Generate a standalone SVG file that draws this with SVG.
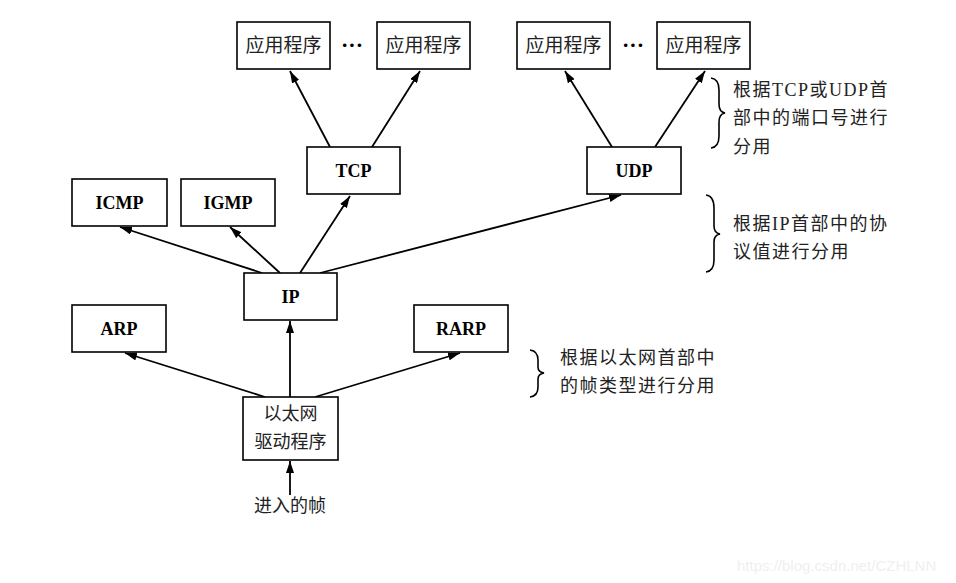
<svg xmlns="http://www.w3.org/2000/svg" width="956" height="583" viewBox="0 0 956 583">
  <defs>
    <marker id="arrow" viewBox="0 0 12 8" refX="12" refY="4" markerWidth="12" markerHeight="8" markerUnits="userSpaceOnUse" orient="auto">
      <path d="M0,0 L12,4 L0,8 Z" fill="#000"/>
    </marker>
    <style>
      .box { fill: #fff; stroke: #000; stroke-width: 1.6; }
      .lbl { font-family: "Liberation Serif", serif; font-weight: bold; font-size: 18px; text-anchor: middle; fill: #000; }
      .app { font-family: "Noto Sans CJK SC", sans-serif; font-size: 19px; fill: #222; text-anchor: middle; }
      .cnc { font-family: "Noto Sans CJK SC", sans-serif; font-size: 18px; fill: #222; text-anchor: middle; }
      .note { font-family: "Liberation Serif", "Noto Sans CJK SC", serif; font-size: 18px; letter-spacing: 1.5px; fill: #222; }
      .edge { stroke: #000; stroke-width: 1.8; fill: none; marker-end: url(#arrow); }
      .brace { stroke: #000; stroke-width: 1.6; fill: none; }
      .dots { font-family: "Liberation Serif", serif; font-weight: bold; font-size: 22px; text-anchor: middle; fill: #000; }
    </style>
  </defs>

  <rect width="956" height="583" fill="#fff"/>

  <!-- connectors -->
  <g id="connectors">
    <line class="edge" x1="330" y1="147" x2="290" y2="71"/>
    <line class="edge" x1="372" y1="147" x2="420" y2="71"/>
    <line class="edge" x1="612" y1="147" x2="565" y2="71"/>
    <line class="edge" x1="655" y1="147" x2="705" y2="71"/>
    <line class="edge" x1="262" y1="273" x2="120" y2="227"/>
    <line class="edge" x1="280" y1="273" x2="230" y2="227"/>
    <line class="edge" x1="300" y1="273" x2="350" y2="196"/>
    <line class="edge" x1="320" y1="273" x2="621" y2="195"/>
    <line class="edge" x1="265" y1="397" x2="125" y2="353"/>
    <line class="edge" x1="290" y1="397" x2="290" y2="321"/>
    <line class="edge" x1="315" y1="397" x2="460" y2="353"/>
    <line class="edge" x1="290" y1="495" x2="290" y2="461"/>
  </g>

  <!-- application layer -->
  <g id="app1"><rect class="box" x="237" y="22" width="93" height="47"/><text class="app" x="283.5" y="52">应用程序</text></g>
  <text class="dots" x="352" y="52">···</text>
  <g id="app2"><rect class="box" x="377" y="22" width="93" height="47"/><text class="app" x="423.5" y="52">应用程序</text></g>
  <g id="app3"><rect class="box" x="517" y="22" width="93" height="47"/><text class="app" x="563.5" y="52">应用程序</text></g>
  <text class="dots" x="633" y="52">···</text>
  <g id="app4"><rect class="box" x="657" y="22" width="93" height="47"/><text class="app" x="703.5" y="52">应用程序</text></g>

  <!-- transport layer -->
  <g id="tcp"><rect class="box" x="307" y="147" width="93" height="47"/><text class="lbl" x="353.5" y="177">TCP</text></g>
  <g id="udp"><rect class="box" x="587" y="147" width="94" height="47"/><text class="lbl" x="634" y="177">UDP</text></g>

  <!-- network layer -->
  <g id="icmp"><rect class="box" x="72" y="179" width="95" height="47"/><text class="lbl" x="119.5" y="209">ICMP</text></g>
  <g id="igmp"><rect class="box" x="181" y="179" width="94" height="47"/><text class="lbl" x="228" y="209">IGMP</text></g>
  <g id="ip"><rect class="box" x="244" y="273" width="93" height="47"/><text class="lbl" x="290.5" y="303">IP</text></g>

  <!-- link layer -->
  <g id="arp"><rect class="box" x="72" y="305" width="94" height="47"/><text class="lbl" x="119" y="335">ARP</text></g>
  <g id="rarp"><rect class="box" x="414" y="305" width="94" height="47"/><text class="lbl" x="461" y="335">RARP</text></g>
  <g id="driver">
    <rect class="box" x="243" y="397" width="95" height="63"/>
    <text class="cnc" x="290.5" y="420">以太网</text>
    <text class="cnc" x="290.5" y="448">驱动程序</text>
  </g>
  <g id="input"><text class="cnc" x="290" y="512">进入的帧</text></g>

  <!-- demultiplexing notes -->
  <g id="note-ports">
    <path class="brace" d="M711,78 Q719,79 719,90 L719,104 Q719,112 725,113 Q719,114 719,122 L719,136 Q719,147 711,148"/>
    <text class="note" x="733" y="96">根据TCP或UDP首</text>
    <text class="note" x="733" y="124">部中的端口号进行</text>
    <text class="note" x="733" y="153">分用</text>
  </g>
  <g id="note-ip">
    <path class="brace" d="M706,195 Q714,196 714,208 L714,226 Q714,233 720,234 Q714,235 714,242 L714,260 Q714,271 706,272"/>
    <text class="note" x="733" y="230">根据IP首部中的协</text>
    <text class="note" x="733" y="258">议值进行分用</text>
  </g>
  <g id="note-ether">
    <path class="brace" d="M530,350 Q538,351 538,360 L538,367 Q538,372 544,373 Q538,374 538,379 L538,387 Q538,396 530,397"/>
    <text class="note" x="560" y="364">根据以太网首部中</text>
    <text class="note" x="560" y="392">的帧类型进行分用</text>
  </g>

  <text x="737" y="571" font-family="Liberation Sans, sans-serif" font-size="15" fill="#efefef">https://blog.csdn.net/CZHLNN</text>
</svg>
